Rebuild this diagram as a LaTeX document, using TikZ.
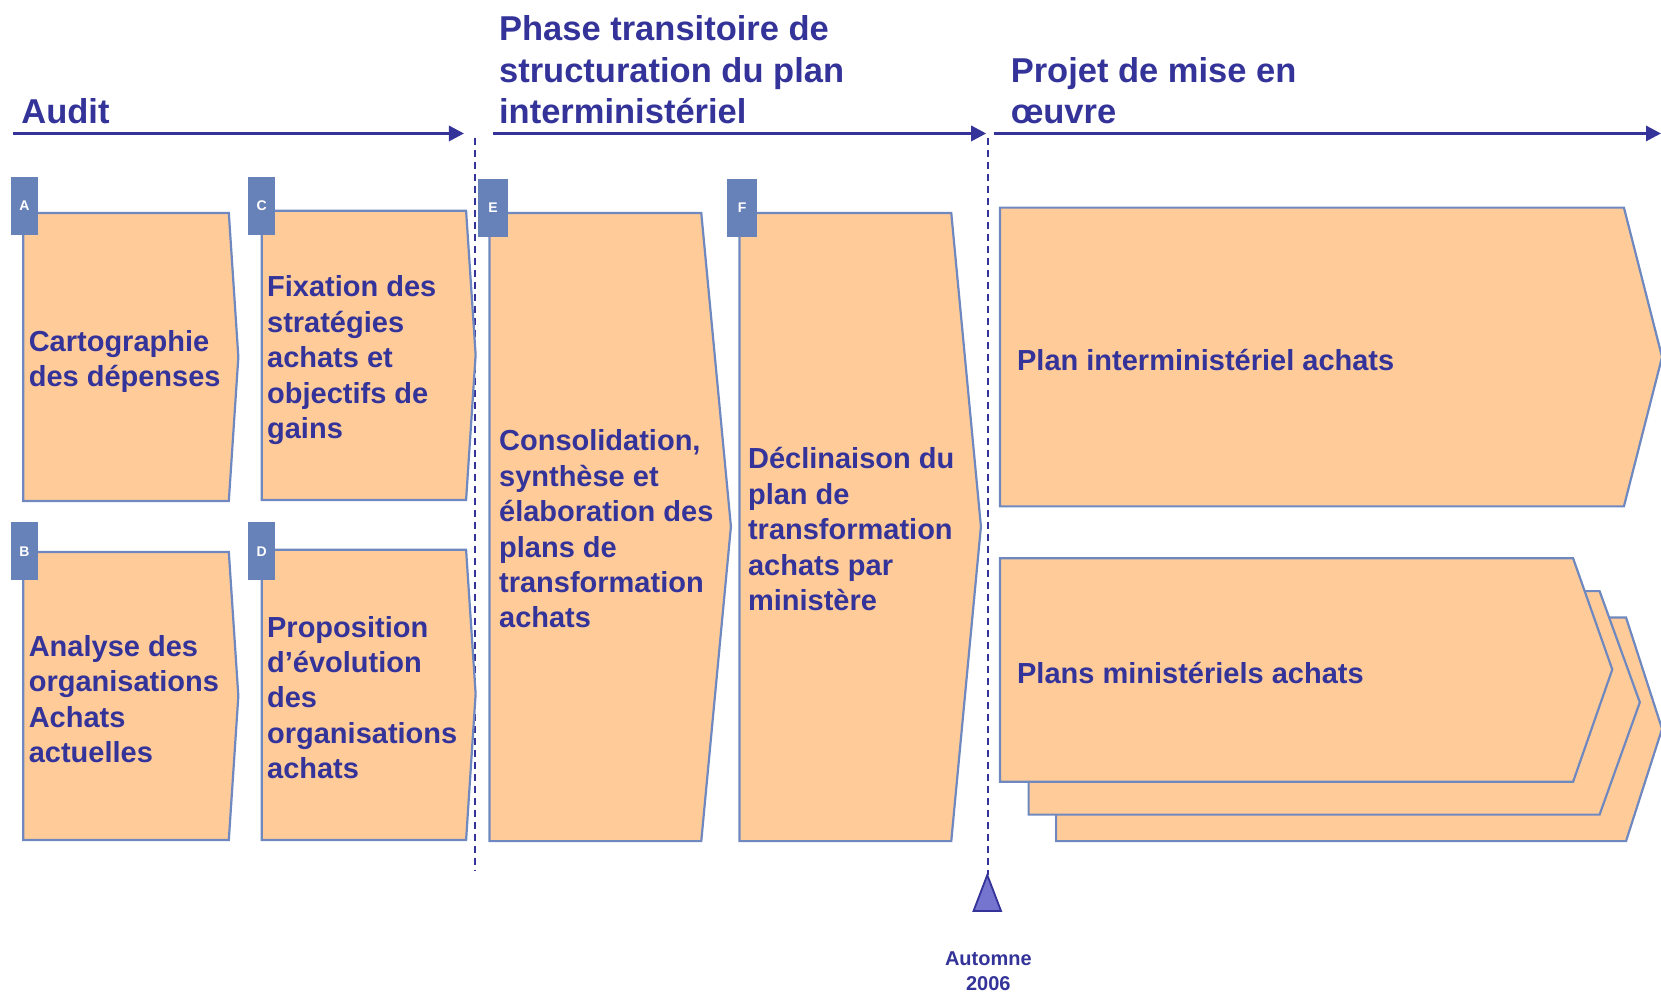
\documentclass[tikz,border=0pt]{standalone}
\usepackage{fontspec}
\setmainfont{Liberation Sans}
\usetikzlibrary{arrows.meta}
\definecolor{tblue}{HTML}{333399}
\definecolor{peach}{HTML}{FFCC99}
\definecolor{bord}{HTML}{6F88BF}
\definecolor{tabc}{HTML}{6781B9}
\definecolor{tri}{HTML}{7575D0}
\begin{document}
\begin{tikzpicture}[x=1.0593pt,y=-1.0593pt,
  box/.style={fill=peach,draw=bord,line width=2.2pt,line join=miter},
  tabbox/.style={fill=tabc,draw=none,text=white,font=\bfseries\fontsize{14}{16}\selectfont,inner sep=0,minimum width=27.5pt,minimum height=58pt},
  txt/.style={anchor=west,align=left,inner sep=0,text=tblue,font=\bfseries\fontsize{29}{35.4}\selectfont},
  ttl/.style={anchor=west,align=left,inner sep=0,text=tblue,font=\bfseries\fontsize{34.5}{41.3}\selectfont},
  phase/.style={draw=tblue,line width=3pt,-{Triangle[length=15pt,width=15pt]}},
  sep/.style={draw=tblue,line width=2pt,dash pattern=on 7pt off 5pt}]
\useasboundingbox (0,0) rectangle (1568,937);

% phase arrows
\coordinate (a1) at (12,126); \coordinate (a2) at (438,126);
\coordinate (b1) at (465,126); \coordinate (b2) at (931,126);
\coordinate (c1) at (938,126); \coordinate (c2) at (1568,126);
\draw[phase] (a1) -- (a2);
\draw[phase] (b1) -- (b2);
\draw[phase] (c1) -- (c2);

% titles
\node[ttl] (audit) at (20,105) {Audit};
\node[ttl] (phase) at (471,66) {Phase transitoire de\\structuration du plan\\interministériel};
\node[ttl] (projet) at (954,85.5) {Projet de mise en\\œuvre};

% separators
\coordinate (s1a) at (448,130); \coordinate (s1b) at (448,822);
\coordinate (s2a) at (933,130); \coordinate (s2b) at (933,826);
\draw[sep] (s1a) -- (s1b);
\draw[sep] (s2a) -- (s2b);

% boxes
\draw[box] (22,201) -- (216,201) -- (225,337) -- (216,473) -- (22,473) -- cycle;
\draw[box] (247,199) -- (440,199) -- (449,335) -- (440,472) -- (247,472) -- cycle;
\draw[box] (22,521) -- (216,521) -- (225,657) -- (216,793) -- (22,793) -- cycle;
\draw[box] (247,519) -- (440,519) -- (449,655) -- (440,793) -- (247,793) -- cycle;
\draw[box] (462,201) -- (662,201) -- (690,497) -- (662,794) -- (462,794) -- cycle;
\draw[box] (698,201) -- (898,201) -- (926,497) -- (898,794) -- (698,794) -- cycle;
\draw[box] (944,196) -- (1533,196) -- (1569,337) -- (1533,478) -- (944,478) -- cycle;
\draw[box] (997,583) -- (1535,583) -- (1569,688) -- (1535,794) -- (997,794) -- cycle;
\draw[box] (971,558) -- (1510,558) -- (1548,663) -- (1510,769) -- (971,769) -- cycle;
\draw[box] (944,527) -- (1485,527) -- (1522,632) -- (1485,738) -- (944,738) -- cycle;

% tabs
\node[tabbox] (tA) at (23,194.5) {A};
\node[tabbox] (tB) at (23,520.5) {B};
\node[tabbox] (tC) at (247,194.5) {C};
\node[tabbox] (tD) at (247,520.5) {D};
\node[tabbox,minimum width=30.7pt] (tE) at (465.5,196.5) {E};
\node[tabbox,minimum width=30.7pt] (tF) at (700.5,196.5) {F};

% texts
\node[txt] (xA) at (27,341) {Cartographie\\des dépenses};
\node[txt] (xC) at (252,340) {Fixation des\\stratégies\\achats et\\objectifs de\\gains};
\node[txt] (xB) at (27,660) {Analyse des\\organisations\\Achats\\actuelles};
\node[txt] (xD) at (252,658.5) {Proposition\\d’évolution\\des\\organisations\\achats};
\node[txt] (xE) at (471,499.5) {Consolidation,\\synthèse et\\élaboration des\\plans de\\transformation\\achats};
\node[txt] (xF) at (706,499.5) {Déclinaison du\\plan de\\transformation\\achats par\\ministère};
\node[txt] (xP) at (960,340) {Plan interministériel achats};
\node[txt] (xM) at (960,635) {Plans ministériels achats};

% milestone
\draw[fill=tri,draw=tblue,line width=1.8pt,line join=miter] (932,826) -- (945,860) -- (919,860) -- cycle;
\node[align=center,inner sep=0,text=tblue,font=\bfseries\fontsize{20}{24.4}\selectfont] (aut) at (933,917) {Automne\\2006};
\end{tikzpicture}
\end{document}
